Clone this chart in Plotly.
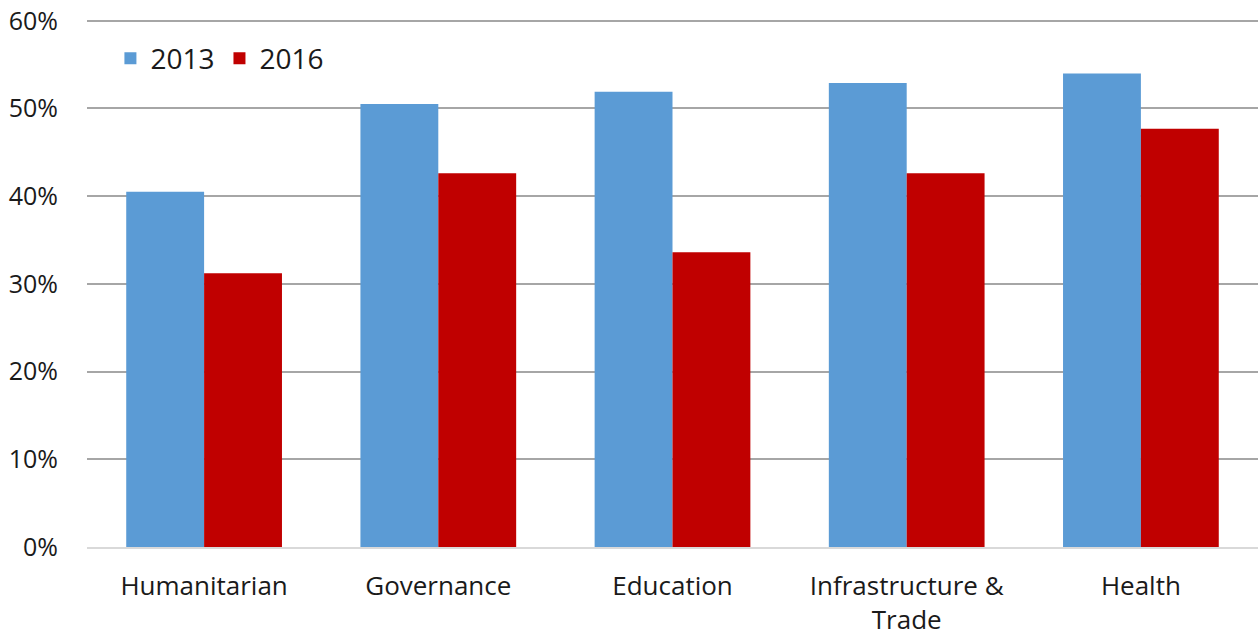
import plotly.graph_objects as go

categories = ["Humanitarian", "Governance", "Education", "Infrastructure &<br>Trade", "Health"]
series_2013 = [0.405, 0.505, 0.519, 0.529, 0.540]
series_2016 = [0.312, 0.426, 0.336, 0.426, 0.477]
tick_vals = [0, 0.1, 0.2, 0.3, 0.4, 0.5, 0.6]
tick_text = ["0%", "10%", "20%", "30%", "40%", "50%", "60%"]

fig = go.Figure()
fig.add_trace(go.Bar(name="2013", x=categories, y=series_2013, marker_color="#5B9BD5", marker_line_width=0))
fig.add_trace(go.Bar(name="2016", x=categories, y=series_2016, marker_color="#C00000", marker_line_width=0))

fig.update_layout(
    width=1258, height=637,
    barmode="group", bargap=0.335, bargroupgap=0,
    plot_bgcolor="white", paper_bgcolor="white",
    margin=dict(l=87, r=0, t=19, b=90),
    font=dict(family="Open Sans", size=25, color="#1a1a1a"),
    showlegend=True,
    legend=dict(orientation="h", x=0.02, y=0.925, xanchor="left", yanchor="middle",
                font=dict(size=28), bgcolor="rgba(0,0,0,0)", itemwidth=30, traceorder="normal"),
    xaxis=dict(showgrid=False, showline=True, linecolor="#D9D9D9", linewidth=2, ticks="",
               tickfont=dict(size=26), ticklabelstandoff=15, automargin=False),
    yaxis=dict(range=[0, 0.602], tickvals=tick_vals, ticktext=tick_text, showgrid=True,
               gridcolor="#A6A6A6", gridwidth=2, zeroline=False, ticks="", showline=False,
               tickfont=dict(size=25), ticklabelstandoff=28, ticklabeloverflow="allow",
               automargin=False),
)

fig.write_html("out.html", config={"displayModeBar": False},
               post_script="document.body.style.margin='0';")
